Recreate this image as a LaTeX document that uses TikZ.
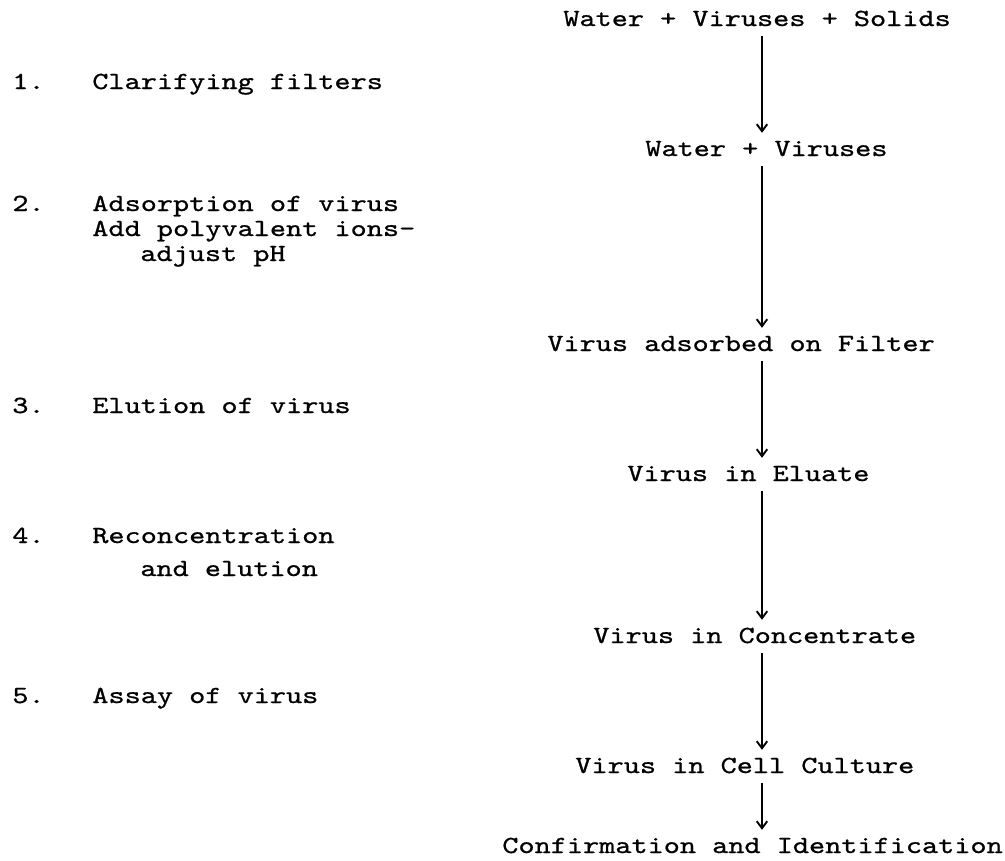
\documentclass[tikz,border=0pt]{standalone}
\usepackage{fontspec}
\newfontfamily\typewriter[FakeStretch=1.25,FakeBold=0.8]{lmmono10-regular.otf}
\usetikzlibrary{arrows.meta}

\begin{document}
\begin{tikzpicture}[x=0.02cm,y=-0.02cm,
  every node/.style={font=\typewriter\fontsize{14}{17}\selectfont,inner sep=0pt,anchor=west,text height=8.5pt,text depth=2.8pt},
  flow/.style={-{Straight Barb[length=4pt,width=6pt]},line width=1.1pt,shorten <=2.8pt,shorten >=4.5pt}]
\useasboundingbox (0,0) rectangle (1005,861);

% Steps of the method, on the left.
\node (n1) at (12,84) {1.};
\node (s1) at (92,84) {Clarifying filters};
\node (n2) at (12,206) {2.};
\node (s2) at (92,206) {Adsorption of virus};
\node (s2b) at (92,231) {Add polyvalent ions-};
\node (s2c) at (140,256) {adjust pH};
\node (n3) at (12,408) {3.};
\node (s3) at (92,408) {Elution of virus};
\node (n4) at (12,538) {4.};
\node (s4) at (92,538) {Reconcentration};
\node (s4b) at (140,571) {and elution};
\node (n5) at (12,698) {5.};
\node (s5) at (92,698) {Assay of virus};

% Flow of the sample, on the right.
\coordinate (axis) at (762,0);
\node (feed) at (563,21) {Water + Viruses + Solids};
\node (clear) at (645,151) {Water + Viruses};
\node (adsorbed) at (547,346) {Virus adsorbed on Filter};
\node (eluate) at (627,476) {Virus in Eluate};
\node (conc) at (593,638) {Virus in Concentrate};
\node (culture) at (575,768) {Virus in Cell Culture};
\node (confirm) at (502,848) {Confirmation and Identification};

\draw[flow] (feed.south -| axis) -- (clear.north -| axis);
\draw[flow] (clear.south -| axis) -- (adsorbed.north -| axis);
\draw[flow] (adsorbed.south -| axis) -- (eluate.north -| axis);
\draw[flow] (eluate.south -| axis) -- (conc.north -| axis);
\draw[flow] (conc.south -| axis) -- (culture.north -| axis);
\draw[flow] (culture.south -| axis) -- (confirm.north -| axis);
\end{tikzpicture}
\end{document}
